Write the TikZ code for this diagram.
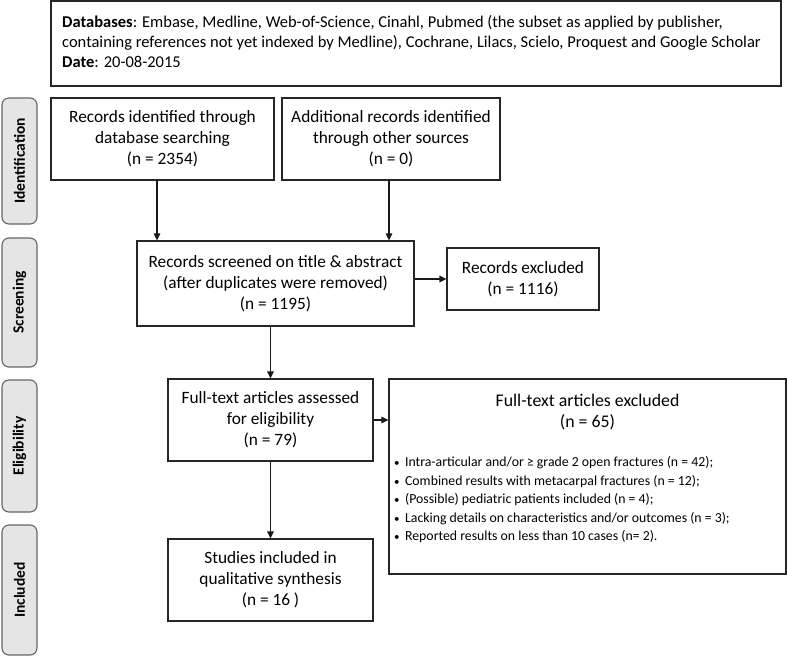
\documentclass[tikz,border=0pt]{standalone}
\usepackage{fontspec}
\setmainfont{Carlito}
\usetikzlibrary{arrows.meta}
\begin{document}
\begin{tikzpicture}[x=1pt,y=-1pt,
 box/.style={draw=black!85, line width=1.1pt, fill=white, align=center, inner sep=0pt, font=\fontsize{17.3}{21}\selectfont},
 side/.style={draw=black!60, line width=1.1pt, fill=black!10, rounded corners=7pt, inner sep=0pt, minimum height=35pt, rotate=90, font=\fontsize{15.5}{17}\selectfont\bfseries},
 plain/.style={inner sep=0pt, align=center, font=\fontsize{17.8}{21}\selectfont},
 arr/.style={draw=black!90, line width=1.1pt, -{Triangle[length=7pt,width=6.5pt]}}]
\useasboundingbox (0,0) rectangle (787,658);
% top box
\node[box, minimum width=730pt, minimum height=85pt] (top) at (416,43.5) {};
\node[anchor=west, align=left, inner sep=0pt, font=\fontsize{16.5}{20}\selectfont] (dbtext) at (62,42)
 {\textbf{Databases}: Embase, Medline, Web-of-Science, Cinahl, Pubmed (the subset as applied by publisher,\\
 containing references not yet indexed by Medline), Cochrane, Lilacs, Scielo, Proquest and Google Scholar\\
 \textbf{Date}: 20-08-2015};
% side labels
\node[side, minimum width=126pt] (sid) at (19.5,161) {Identification};
\node[side, minimum width=129pt] (sscr) at (19.5,302.5) {Screening};
\node[side, minimum width=132pt] (selig) at (19.5,446) {Eligibility};
\node[side, minimum width=130pt] (sinc) at (19.5,590) {Included};
% boxes
\node[box, minimum width=223pt, minimum height=82pt] (idb) at (162.5,139) {Records identified through\\database searching\\(n = 2354)};
\node[box, minimum width=218pt, minimum height=82pt] (add) at (391,139) {Additional records identified\\through other sources\\(n = 0)};
\node[box, minimum width=277pt, minimum height=85pt] (scr) at (275.5,283.5) {Records screened on title \& abstract\\(after duplicates were removed)\\(n = 1195)};
\node[box, minimum width=152pt, minimum height=62pt] (exa) at (523,279) {Records excluded\\(n = 1116)};
\node[box, minimum width=205pt, minimum height=82pt] (ft) at (270.5,420) {Full-text articles assessed\\for eligibility\\(n = 79)};
\node[box, minimum width=205pt, minimum height=82pt] (inc) at (270.5,580) {Studies included in\\qualitative synthesis\\(n = 16 )};
\node[box, minimum width=397pt, minimum height=195pt] (exb) at (587.5,476.5) {};
\node[plain] (exbh) at (587.5,412.5) {Full-text articles excluded\\(n = 65)};
\node[anchor=west, align=left, inner sep=0pt, font=\fontsize{13.8}{18.5}\selectfont] (exbl) at (394,500)
 {{\fontsize{11}{11}\selectfont •}\, Intra-articular and/or ≥ grade 2 open fractures (n = 42);\\
  {\fontsize{11}{11}\selectfont •}\, Combined results with metacarpal fractures (n = 12);\\
  {\fontsize{11}{11}\selectfont •}\, (Possible) pediatric patients included (n = 4);\\
  {\fontsize{11}{11}\selectfont •}\, Lacking details on characteristics and/or outcomes (n = 3);\\
  {\fontsize{11}{11}\selectfont •}\, Reported results on less than 10 cases (n= 2).};
% arrows
\draw[arr] ([xshift=-5.5pt]idb.south) -- ([xshift=-5.5pt]idb.south |- scr.north);
\draw[arr] ([xshift=-2pt]add.south) -- ([xshift=-2pt]add.south |- scr.north);
\draw[arr] (scr.east |- exa.west) -- (exa.west);
\draw[arr] (ft.north |- scr.south) -- (ft.north);
\draw[arr] (ft.east) -- (ft.east -| exb.west);
\draw[arr] (ft.south) -- (inc.north);
\end{tikzpicture}
\end{document}
